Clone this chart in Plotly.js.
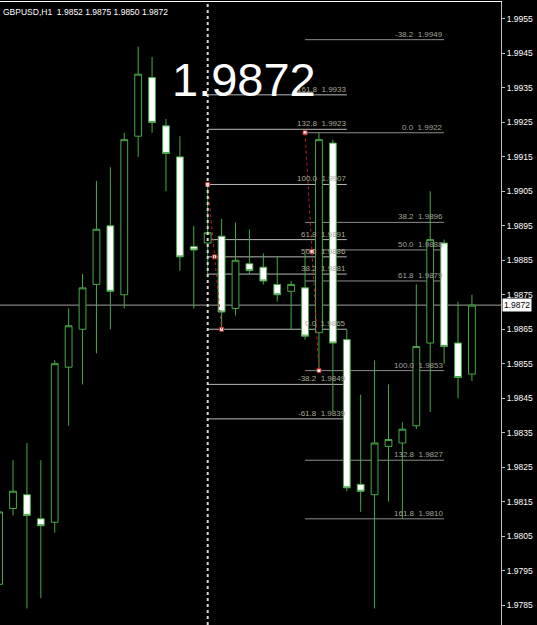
<!DOCTYPE html>
<html>
<head>
<meta charset="utf-8">
<script src="https://cdn.plot.ly/plotly-3.0.1.min.js"></script>
<style>
html,body{margin:0;padding:0;background:#000;}
#chart{width:537px;height:625px;}
</style>
</head>
<body>
<div id="chart"></div>
<script>
// ---- data ----
var symbol = "GBPUSD,H1";
var bars   = [-1,0,1,2,3,4,5,6,7,8,9,10,11,12,13,14,15,16,17,18,19,20,21,22,23,24,25,26,27,28,29,30,31,32,33];
var opens  = [1.9791,1.9813,1.9817,1.9810,1.9809,1.9854,1.9865,1.9878,1.9895,1.9875,1.9921,1.9938,1.9924,1.9915,1.9889,1.9890,1.9892,1.9871,1.9884,1.9883,1.9878,1.9876,1.9877,1.9864,1.9919,1.9862,1.9820,1.9817,1.9831,1.9832,1.9837,1.9861,1.9890,1.9861,1.9852];
var highs  = [1.9813,1.9827,1.9832,1.9827,1.9856,1.9871,1.9881,1.9908,1.9912,1.9922,1.9947,1.9944,1.9926,1.9921,1.9895,1.9907,1.9897,1.9896,1.9894,1.9887,1.9886,1.9879,1.9887,1.9922,1.9920,1.9865,1.9846,1.9856,1.9849,1.9838,1.9878,1.9905,1.9891,1.9873,1.9875];
var lows   = [1.9790,1.9811,1.9784,1.9787,1.9806,1.9837,1.9849,1.9858,1.9865,1.9871,1.9915,1.9922,1.9905,1.9882,1.9871,1.9880,1.9865,1.9869,1.9881,1.9878,1.9873,1.9865,1.9862,1.9853,1.9841,1.9818,1.9812,1.9784,1.9815,1.9810,1.9836,1.9841,1.9855,1.9845,1.9850];
var closes = [1.9812,1.9818,1.9811,1.9808,1.9855,1.9866,1.9877,1.9894,1.9876,1.9920,1.9939,1.9925,1.9916,1.9886,1.9888,1.9893,1.9870,1.9885,1.9882,1.9879,1.9875,1.9878,1.9863,1.9920,1.9861,1.9819,1.9818,1.9832,1.9833,1.9836,1.9860,1.9891,1.9860,1.9851,1.9872];

var priceTicks = [1.9955,1.9945,1.9935,1.9925,1.9915,1.9905,1.9895,1.9885,1.9875,1.9865,1.9855,1.9845,1.9835,1.9825,1.9815,1.9805,1.9795,1.9785];

// Fibonacci object 1
var fib1Bars   = [14, 15];          // anchor bars
var fib1Anchor = [1.9907, 1.9865];  // anchor prices
var fib1End    = 24;
var fib1Levels = ["161.8","132.8","100.0","61.8","50.0","38.2","0.0","-38.2","-61.8"];
var fib1Prices = [1.9933,1.9923,1.9907,1.9891,1.9886,1.9881,1.9865,1.9849,1.9839];

// Fibonacci object 2
var fib2Bars   = [21, 22];
var fib2Anchor = [1.9922, 1.9853];
var fib2End    = 31;
var fib2Levels = ["-38.2","0.0","38.2","50.0","61.8","100.0","132.8","161.8"];
var fib2Prices = [1.9949,1.9922,1.9896,1.9888,1.9879,1.9853,1.9827,1.9810];

var vlineBar = 14;

// ---- build ----
var green = "#47a847";
var last = closes.length - 1;
var lastPrice = closes[last].toFixed(4);

var trace = {
  type: "candlestick",
  x: bars, open: opens, high: highs, low: lows, close: closes,
  increasing: {line: {color: green, width: 1}, fillcolor: "#000000"},
  decreasing: {line: {color: green, width: 1}, fillcolor: "#ffffff"},
  whiskerwidth: 0,
  hoverinfo: "skip",
  showlegend: false
};

var shapes = [];
var annotations = [];
var nb = "\u00a0\u00a0";

function addFib(startBar, endBar, levels, prices, lineColor, txtColor, anchorsX, anchorsY) {
  for (var i = 0; i < levels.length; i++) {
    shapes.push({type: "line", layer: "below", xref: "x", yref: "y",
      x0: startBar, x1: endBar, y0: prices[i], y1: prices[i],
      line: {color: lineColor, width: 1}});
    annotations.push({xref: "x", yref: "y", x: endBar, y: prices[i],
      xanchor: "right", yanchor: "bottom", showarrow: false, borderpad: 0,
      text: levels[i] + nb + prices[i].toFixed(4),
      font: {family: "Liberation Sans, Arial, sans-serif", size: 8, color: txtColor}});
  }
  shapes.push({type: "line", xref: "x", yref: "y",
    x0: anchorsX[0], x1: anchorsX[1], y0: anchorsY[0], y1: anchorsY[1],
    line: {color: "#c02020", width: 1, dash: "dot"}});
  var mx = [anchorsX[0], (anchorsX[0] + anchorsX[1]) / 2, anchorsX[1]];
  var my = [anchorsY[0], (anchorsY[0] + anchorsY[1]) / 2, anchorsY[1]];
  return {type: "scatter", mode: "markers", x: mx, y: my, hoverinfo: "skip", showlegend: false,
    marker: {symbol: "square", size: 4, color: "#ffffff", line: {color: "#c02020", width: 1}}};
}

var m1 = addFib(fib1Bars[0], fib1End, fib1Levels, fib1Prices, "#b8b8b8", "#a8a898", fib1Bars, fib1Anchor);
var m2 = addFib(fib2Bars[0], fib2End, fib2Levels, fib2Prices, "#8c8c8c", "#a0a098", fib2Bars, fib2Anchor);

// current price line
shapes.push({type: "line", layer: "below", xref: "paper", yref: "y", x0: 0, x1: 1,
  y0: closes[last], y1: closes[last], line: {color: "#a0a0a0", width: 1}});
// vertical dotted line
shapes.push({type: "line", xref: "x", yref: "paper", x0: vlineBar, x1: vlineBar, y0: 0, y1: 1,
  line: {color: "#d8d8d8", width: 2, dash: "dot"}});

// header
annotations.push({xref: "paper", yref: "paper", x: 0.004, y: 0.994, xanchor: "left", yanchor: "top",
  showarrow: false, borderpad: 0,
  text: symbol + nb + opens[last].toFixed(4) + " " + highs[last].toFixed(4) + " " + lows[last].toFixed(4) + " " + lastPrice,
  font: {family: "Liberation Sans, Arial, sans-serif", size: 8.5, color: "#ffffff"}});
// big price
annotations.push({xref: "paper", yref: "paper", x: 0.487, y: 0.876, xanchor: "center", yanchor: "middle",
  showarrow: false, text: lastPrice,
  font: {family: "Liberation Sans, Arial, sans-serif", size: 47, color: "#ffffff"}});
// price tag on axis
annotations.push({xref: "paper", yref: "y", x: 1, xshift: 1, y: closes[last], xanchor: "left", yanchor: "middle",
  showarrow: false, text: lastPrice, bgcolor: "#ffffff", borderpad: 1,
  font: {family: "Liberation Sans, Arial, sans-serif", size: 8.5, color: "#000000"}});

var layout = {
  width: 537, height: 625,
  margin: {l: 0, r: 36, t: 2, b: 0, pad: 0},
  paper_bgcolor: "#000000", plot_bgcolor: "#000000",
  showlegend: false,
  xaxis: {range: [-0.935, 35.09], showgrid: false, zeroline: false, showticklabels: false,
    ticks: "", side: "top", showline: true, linecolor: "#ffffff", linewidth: 1,
    rangeslider: {visible: false}, fixedrange: true},
  yaxis: {range: [1.977920, 1.995993], side: "right", showgrid: false, zeroline: false,
    tickvals: priceTicks, ticktext: priceTicks.map(function(v){return v.toFixed(4);}),
    ticks: "outside", ticklen: 3, tickcolor: "#c0c0c0",
    showline: true, linecolor: "#c0c0c0", linewidth: 1,
    tickfont: {family: "Liberation Sans, Arial, sans-serif", size: 8.5, color: "#ffffff"},
    fixedrange: true},
  shapes: shapes,
  annotations: annotations
};

Plotly.newPlot("chart", [trace, m1, m2], layout, {displayModeBar: false, staticPlot: true});
</script>
</body>
</html>
